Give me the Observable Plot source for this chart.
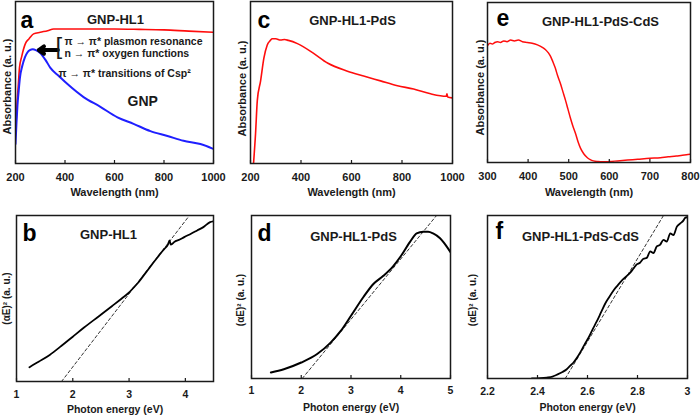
<!DOCTYPE html>
<html>
<head>
<meta charset="utf-8">
<script src="https://cdn.jsdelivr.net/npm/d3@7"></script>
<script src="https://cdn.jsdelivr.net/npm/@observablehq/plot@0.6"></script>
<style>
  html, body { margin: 0; padding: 0; background: #fff; }
  #fig { position: relative; width: 700px; height: 417px; overflow: hidden; background: #fff; }
  #fig > div { position: absolute; }
</style>
</head>
<body>
<div id="fig"></div>
<script>
// ---------- tick labels ----------
const wavelengthTicks = [200, 400, 600, 800, 1000];
const wavelengthTicksCdS = [300, 400, 500, 600, 700, 800];
const energyTicksHL1 = [1, 2, 3, 4];
const energyTicksPdS = [1, 2, 3, 4, 5];
const energyTicksCdS = [2.2, 2.4, 2.6, 2.8, 3];

// ---------- (a) UV-vis: GNP-HL1 (red) and GNP (blue) ----------
const hl1Wavelength = [200, 204, 207, 212, 216, 225, 240, 255, 273, 300, 330, 354, 400, 500, 600, 700, 800, 900, 1000];
const hl1Absorbance = [0.18, 0.30, 0.39, 0.50, 0.59, 0.66, 0.74, 0.77, 0.80, 0.81, 0.82, 0.83, 0.83, 0.83, 0.83, 0.828, 0.825, 0.817, 0.81];

const gnpWavelength = [200, 204, 208, 213, 218, 227, 238, 248, 258, 270, 282, 301, 321, 341, 375, 410, 475, 543, 612, 677, 745, 814, 879, 947, 1000];
const gnpAbsorbance = [0.12, 0.25, 0.36, 0.45, 0.53, 0.60, 0.655, 0.685, 0.70, 0.705, 0.70, 0.68, 0.64, 0.59, 0.54, 0.49, 0.41, 0.35, 0.285, 0.245, 0.20, 0.17, 0.14, 0.12, 0.09];

// ---------- (c) UV-vis: GNP-HL1-PdS ----------
const pdsWavelength = [212, 220, 227, 240, 253, 266, 279, 286, 300, 319, 335, 350, 386, 450, 505, 584, 648, 715, 782, 846, 913, 975, 978, 981, 1000];
const pdsAbsorbance = [0, 0.185, 0.39, 0.51, 0.65, 0.73, 0.76, 0.77, 0.77, 0.762, 0.765, 0.76, 0.74, 0.68, 0.62, 0.57, 0.54, 0.51, 0.48, 0.46, 0.43, 0.415, 0.43, 0.41, 0.405];

// ---------- (e) UV-vis: GNP-HL1-PdS-CdS ----------
const cdsWavelength = [300, 306, 312, 318, 325, 332, 340, 348, 357, 366, 376, 386, 398, 410, 423, 435, 443, 450, 455, 461, 467, 473, 480, 486, 492, 498, 504, 510, 517, 523, 529, 537, 546, 553, 561, 572, 586, 600, 620, 645, 670, 700, 726, 745, 765, 780, 790, 800];
const cdsAbsorbance = [0.73, 0.745, 0.74, 0.75, 0.755, 0.75, 0.76, 0.755, 0.765, 0.76, 0.765, 0.755, 0.75, 0.745, 0.735, 0.72, 0.705, 0.685, 0.665, 0.63, 0.59, 0.54, 0.49, 0.44, 0.39, 0.335, 0.28, 0.23, 0.18, 0.13, 0.09, 0.055, 0.03, 0.018, 0.01, 0.006, 0.004, 0.006, 0.01, 0.015, 0.02, 0.026, 0.03, 0.036, 0.04, 0.046, 0.048, 0.052];

// ---------- (b) Tauc plot: GNP-HL1 ----------
const hl1Energy = [1.23, 1.40, 1.59, 1.80, 2.0, 2.2, 2.47, 2.70, 2.87, 2.98, 3.08, 3.16, 3.25, 3.34, 3.43, 3.51, 3.58, 3.63, 3.69, 3.72, 3.74, 3.77, 3.80, 3.90, 3.98, 4.10, 4.21, 4.32, 4.44, 4.5];
const hl1Tauc = [0.086, 0.12, 0.16, 0.215, 0.27, 0.325, 0.395, 0.455, 0.50, 0.53, 0.565, 0.595, 0.635, 0.675, 0.715, 0.75, 0.78, 0.80, 0.825, 0.85, 0.825, 0.83, 0.84, 0.855, 0.87, 0.89, 0.91, 0.93, 0.96, 0.965];
const hl1FitEnergy = [1.80, 4.05];
const hl1FitTauc = [0, 0.99];

// ---------- (d) Tauc plot: GNP-HL1-PdS ----------
const pdsEnergy = [1.39, 1.65, 2.0, 2.32, 2.59, 2.79, 3.0, 3.25, 3.45, 3.65, 3.85, 4.0, 4.19, 4.32, 4.45, 4.55, 4.65, 4.79, 5.0];
const pdsTauc = [0.037, 0.057, 0.098, 0.15, 0.22, 0.29, 0.385, 0.50, 0.58, 0.63, 0.69, 0.75, 0.84, 0.89, 0.90, 0.90, 0.89, 0.86, 0.775];
const pdsFitEnergy = [2.02, 4.72];
const pdsFitTauc = [0, 1.0];

// ---------- (f) Tauc plot: GNP-HL1-PdS-CdS ----------
const cdsEnergy = [2.377, 2.41, 2.437, 2.46, 2.477, 2.50, 2.517, 2.53, 2.544, 2.557, 2.571, 2.587, 2.604, 2.62, 2.637, 2.654, 2.671, 2.687, 2.704, 2.72, 2.737, 2.754, 2.771, 2.784, 2.797, 2.81, 2.824, 2.837, 2.851, 2.864, 2.877, 2.89, 2.904, 2.917, 2.931, 2.944, 2.957, 2.97, 2.984, 2.99, 3.0];
const cdsTauc = [0, 0.002, 0.006, 0.012, 0.023, 0.04, 0.057, 0.077, 0.098, 0.125, 0.16, 0.205, 0.25, 0.30, 0.35, 0.405, 0.46, 0.50, 0.54, 0.57, 0.60, 0.625, 0.65, 0.675, 0.70, 0.71, 0.735, 0.74, 0.78, 0.77, 0.81, 0.82, 0.85, 0.84, 0.89, 0.88, 0.93, 0.95, 0.97, 0.985, 0.99];
const cdsFitEnergy = [2.511, 2.904];
const cdsFitTauc = [0, 1.0];

// ---------- helpers ----------
const FONT = '"Liberation Sans", Arial, Helvetica, sans-serif';
const INK = "#1a1a1a";
const zip = (xs, ys) => xs.map((x, i) => ({x, y: ys[i]}));

function curve(xs, ys, stroke, strokeWidth = 1.6) {
  return Plot.line(zip(xs, ys), {x: "x", y: "y", stroke, strokeWidth, curve: "monotone-x", clip: true});
}
function fitLine(xs, ys) {
  return Plot.line(zip(xs, ys), {x: "x", y: "y", stroke: "#333", strokeWidth: 1, strokeDasharray: "3,2.5", clip: true});
}

function panel(cfg) {
  const [mt, mr, mb, ml] = cfg.margin;
  const innerH = cfg.height - mt - mb;
  const chart = Plot.plot({
    width: cfg.width,
    height: cfg.height,
    marginTop: mt, marginRight: mr, marginBottom: mb, marginLeft: ml,
    x: {domain: cfg.xDomain},
    y: {domain: [0, 1], axis: null},
    style: {fontFamily: FONT, fontWeight: "bold", background: "transparent", overflow: "visible", color: INK},
    marks: [
      ...cfg.marks,
      // inward tick marks on the bottom axis
      Plot.ruleX(cfg.xTicks, {insetTop: innerH - 3, stroke: INK, strokeWidth: 1.2}),
      Plot.frame({stroke: INK, strokeWidth: 1.5}),
      Plot.axisX({ticks: cfg.xTicks, tickSize: 0, tickPadding: cfg.tickPad, fontSize: cfg.tickFont, label: null, tickFormat: d => String(d)}),
      // x axis title
      Plot.text([cfg.xLabel], {frameAnchor: "bottom", dy: cfg.xLabelDy, textAnchor: "middle", lineAnchor: "bottom", fontSize: cfg.xLabelFont, fill: INK}),
      // y axis title, centred along the left edge
      Plot.text([cfg.yLabel], {frameAnchor: "left", rotate: -90, textAnchor: "middle", lineAnchor: "middle", dx: cfg.yLabelShift[0], dy: cfg.yLabelShift[1], fontSize: cfg.yLabelFont, fill: INK}),
      // panel letter
      Plot.text([cfg.letter], {frameAnchor: "top-left", dx: cfg.letterPos[0], dy: cfg.letterPos[1], textAnchor: "start", lineAnchor: "bottom", fontSize: 23, fill: "#000"}),
      // sample name
      Plot.text([cfg.title], {frameAnchor: "top-left", dx: cfg.titlePos[0], dy: cfg.titlePos[1], textAnchor: "middle", lineAnchor: "bottom", fontSize: 13, fill: INK}),
      ...(cfg.extra || [])
    ]
  });
  const holder = document.createElement("div");
  holder.style.left = cfg.left + "px";
  holder.style.top = cfg.top + "px";
  holder.appendChild(chart);
  document.getElementById("fig").appendChild(holder);
}

const wavelengthLabel = "Wavelength (nm)";
const absorbanceLabel = "Absorbance (a. u.)";
const energyLabel = "Photon energy (eV)";
const taucLabel = "(αE)² (a. u.)";

// (a)
panel({
  left: 0, top: 0, width: 232, height: 205, margin: [1, 19, 42, 15],
  xDomain: [200, 1000], xTicks: wavelengthTicks, tickFont: 11, tickPad: 10,
  xLabel: wavelengthLabel, xLabelFont: 11, xLabelDy: 32,
  yLabel: absorbanceLabel, yLabelFont: 11, yLabelShift: [-8, 4],
  letter: "a", letterPos: [5, 26], title: "GNP-HL1", titlePos: [100, 22],
  marks: [
    curve(hl1Wavelength, hl1Absorbance, "#ff0d0d", 1.6),
    curve(gnpWavelength, gnpAbsorbance, "#1f1fff", 2)
  ],
  extra: [
    Plot.arrow([{x1: 371, y1: 0.70, x2: 294, y2: 0.70}], {x1: "x1", y1: "y1", x2: "x2", y2: "y2", stroke: "#000", strokeWidth: 4, headLength: 7, headAngle: 70}),
    Plot.text(["["], {frameAnchor: "top-left", dx: 40, dy: 52, textAnchor: "start", lineAnchor: "bottom", fontSize: 24, fontWeight: "normal", fill: INK}),
    Plot.text(["π → π* plasmon resonance"], {frameAnchor: "top-left", dx: 49, dy: 43, textAnchor: "start", lineAnchor: "bottom", fontSize: 10.5, fill: INK}),
    Plot.text(["n → π* oxygen functions"], {frameAnchor: "top-left", dx: 49, dy: 55, textAnchor: "start", lineAnchor: "bottom", fontSize: 10.5, fill: INK}),
    Plot.text(["π → π* transitions of Csp²"], {frameAnchor: "top-left", dx: 43, dy: 75, textAnchor: "start", lineAnchor: "bottom", fontSize: 10.5, fill: INK}),
    Plot.text(["GNP"], {frameAnchor: "top-left", dx: 112, dy: 104, textAnchor: "start", lineAnchor: "bottom", fontSize: 14, fill: INK})
  ]
});

// (c)
panel({
  left: 232, top: 0, width: 235, height: 205, margin: [1, 15, 42, 18],
  xDomain: [200, 1000], xTicks: wavelengthTicks, tickFont: 11, tickPad: 10,
  xLabel: wavelengthLabel, xLabelFont: 11, xLabelDy: 32,
  yLabel: absorbanceLabel, yLabelFont: 11, yLabelShift: [-8, 6],
  letter: "c", letterPos: [7, 26], title: "GNP-HL1-PdS", titlePos: [102, 23],
  marks: [curve(pdsWavelength, pdsAbsorbance, "#ff0d0d", 1.6)]
});

// (e)
panel({
  left: 467, top: 0, width: 233, height: 205, margin: [2, 10, 43, 20],
  xDomain: [300, 800], xTicks: wavelengthTicksCdS, tickFont: 11, tickPad: 10,
  xLabel: wavelengthLabel, xLabelFont: 11, xLabelDy: 33,
  yLabel: absorbanceLabel, yLabelFont: 11, yLabelShift: [-7, 5],
  letter: "e", letterPos: [9, 23], title: "GNP-HL1-PdS-CdS", titlePos: [113, 23],
  marks: [curve(cdsWavelength, cdsAbsorbance, "#ff0d0d", 1.5)]
});

// (b)
panel({
  left: 0, top: 205, width: 232, height: 212, margin: [10, 19, 36, 16],
  xDomain: [1, 4.5], xTicks: energyTicksHL1, tickFont: 10.5, tickPad: 9,
  xLabel: energyLabel, xLabelFont: 10.5, xLabelDy: 31,
  yLabel: taucLabel, yLabelFont: 10, yLabelShift: [-10, 0],
  letter: "b", letterPos: [6, 25], title: "GNP-HL1", titlePos: [92, 23],
  marks: [fitLine(hl1FitEnergy, hl1FitTauc), curve(hl1Energy, hl1Tauc, "#000", 1.8)]
});

// (d)
panel({
  left: 232, top: 205, width: 235, height: 212, margin: [10, 17, 39, 19],
  xDomain: [1, 5], xTicks: energyTicksPdS, tickFont: 10.5, tickPad: 8,
  xLabel: energyLabel, xLabelFont: 10.5, xLabelDy: 32,
  yLabel: taucLabel, yLabelFont: 10, yLabelShift: [-11, 3],
  letter: "d", letterPos: [6, 25], title: "GNP-HL1-PdS", titlePos: [102, 25],
  marks: [fitLine(pdsFitEnergy, pdsFitTauc), curve(pdsEnergy, pdsTauc, "#000", 2)]
});

// (f)
panel({
  left: 467, top: 205, width: 233, height: 212, margin: [10, 13, 39, 20],
  xDomain: [2.2, 3], xTicks: energyTicksCdS, tickFont: 10.5, tickPad: 9,
  xLabel: energyLabel, xLabelFont: 10.5, xLabelDy: 32,
  yLabel: taucLabel, yLabelFont: 10, yLabelShift: [-15, 3],
  letter: "f", letterPos: [8, 23], title: "GNP-HL1-PdS-CdS", titlePos: [93, 25],
  marks: [fitLine(cdsFitEnergy, cdsFitTauc), curve(cdsEnergy, cdsTauc, "#000", 1.8)]
});
</script>
</body>
</html>
